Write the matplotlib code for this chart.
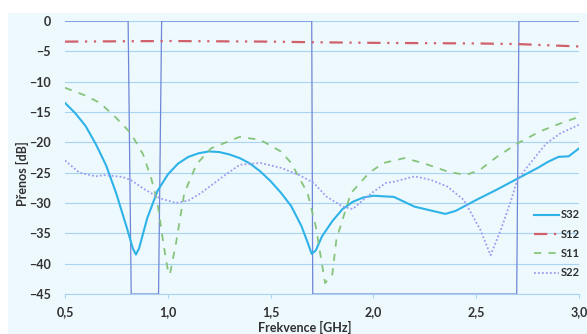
import numpy as np
import matplotlib.pyplot as plt
from matplotlib.patches import Rectangle

# frequency points and S-parameter traces
f32 = [0.5, 0.55, 0.6, 0.65, 0.7, 0.75, 0.8, 0.83, 0.845, 0.86, 0.9, 0.95, 1.0, 1.05, 1.1, 1.15,
       1.2, 1.25, 1.3, 1.35, 1.4, 1.45, 1.5, 1.55, 1.6, 1.65, 1.68, 1.7, 1.72, 1.75, 1.8, 1.85,
       1.9, 1.95, 2.0, 2.1, 2.2, 2.3, 2.35, 2.4, 2.5, 2.6, 2.7, 2.8, 2.85, 2.9, 2.95, 3.0]
s32 = [-13.5, -15.2, -17.3, -20.3, -23.8, -28.5, -34.0, -37.5, -38.5, -37.5, -32.5, -28.0, -25.3,
       -23.5, -22.4, -21.8, -21.5, -21.6, -22.0, -22.6, -23.5, -24.8, -26.4, -28.3, -30.5, -33.8,
       -36.5, -38.4, -37.8, -35.5, -33.0, -31.0, -29.8, -29.1, -28.8, -29.0, -30.6, -31.4, -31.8,
       -31.3, -29.5, -27.8, -26.0, -24.2, -23.2, -22.4, -22.3, -21.0]

f12 = [0.5, 1.0, 1.5, 1.7, 2.0, 2.5, 2.7, 3.0]
s12 = [-3.4, -3.3, -3.4, -3.5, -3.6, -3.7, -3.8, -4.2]

f11 = [0.5, 0.6, 0.67, 0.75, 0.82, 0.88, 0.92, 0.95, 0.98, 1.0, 1.01, 1.04, 1.08, 1.14, 1.21,
       1.35, 1.45, 1.55, 1.6, 1.68, 1.72, 1.765, 1.8, 1.82, 1.89, 1.98, 2.05, 2.15, 2.24, 2.36,
       2.45, 2.52, 2.6, 2.7, 2.81, 2.9, 3.0]
s11 = [-11.0, -12.3, -13.5, -16.0, -18.5, -22.0, -26.0, -30.0, -37.0, -41.0, -41.8, -36.6, -28.4,
       -23.6, -21.0, -19.1, -19.6, -21.5, -23.4, -28.4, -33.9, -43.2, -41.8, -36.0, -28.4, -25.0,
       -23.4, -22.6, -23.4, -24.8, -25.4, -24.5, -22.4, -20.2, -18.2, -17.0, -15.8]

f22 = [0.5, 0.57, 0.65, 0.69, 0.78, 0.82, 0.88, 0.96, 1.04, 1.1, 1.16, 1.27, 1.35, 1.45, 1.55,
       1.64, 1.71, 1.77, 1.85, 1.9, 1.97, 2.06, 2.1, 2.2, 2.28, 2.36, 2.44, 2.52, 2.57, 2.62,
       2.67, 2.7, 2.75, 2.84, 2.91, 3.0]
s22 = [-23.0, -25.0, -25.6, -25.4, -25.7, -26.2, -27.6, -29.2, -30.0, -29.6, -28.4, -25.6, -23.7,
       -23.4, -24.2, -25.4, -26.7, -28.9, -30.6, -31.0, -28.9, -26.7, -26.5, -25.6, -26.2, -27.3,
       -29.5, -34.4, -38.6, -34.4, -29.5, -26.2, -24.0, -20.2, -18.5, -17.1]

# filter mask outline
mask_f = [0.5, 0.807, 0.822, 0.955, 0.97, 1.70, 1.705, 2.697, 2.708, 3.0]
mask_s = [0, 0, -45, -45, 0, 0, -45, -45, 0, 0]

xticks = [0.5, 1.0, 1.5, 2.0, 2.5, 3.0]
xlabels = ['0,5', '1,0', '1,5', '2,0', '2,5', '3,0']
yticks = [0, -5, -10, -15, -20, -25, -30, -35, -40, -45]

plt.rcParams['font.family'] = ['Lato', 'DejaVu Sans']
txt = '#303030'
bg = '#EEF9FE'

fig = plt.figure(figsize=(5.87, 3.34), dpi=100)
fig.patch.set_facecolor('white')
fig.patches.append(Rectangle((8 / 587, 0), 1, 1 - 13 / 334, transform=fig.transFigure,
                             facecolor=bg, edgecolor='none', zorder=-5))
ax = fig.add_axes([65 / 587, 1 - 294 / 334, (579 - 65) / 587, (294 - 21) / 334])
ax.set_facecolor(bg)

for y in yticks:
    ax.axhline(y, color='#A8D4F2', lw=0.8, zorder=1)

ax.plot(mask_f, mask_s, color='#6F86D6', lw=0.9, zorder=2)

l32, = ax.plot(f32, s32, color='#2EB2E8', lw=1.5, zorder=3, label='S32')
l12, = ax.plot(f12, s12, color='#D0606A', lw=1.6, dashes=(6, 3, 1, 3, 1, 3), zorder=3, label='S12')
l11, = ax.plot(f11, s11, color='#86C47C', lw=1.3, dashes=(4, 4), zorder=3, label='S11')
l22, = ax.plot(f22, s22, color='#9C9CF0', lw=1.3, dashes=(1, 1.2), zorder=3, label='S22')

ax.set_xlim(0.5, 3.0)
ax.set_ylim(-45, 0)
ax.set_xticks(xticks)
ax.set_xticklabels(xlabels)
ax.set_yticks(yticks)
for s in ['top', 'right', 'left']:
    ax.spines[s].set_visible(False)
ax.spines['bottom'].set_color('#A8D4F2')
ax.tick_params(axis='y', length=0, pad=10, labelsize=9, labelcolor=txt)
ax.tick_params(axis='x', length=3, color='#A8D4F2', pad=6, labelsize=9, labelcolor=txt)
for lab in ax.get_xticklabels() + ax.get_yticklabels():
    lab.set_fontweight('bold')

fig.text(305 / 587, 7 / 334, 'Frekvence [GHz]', ha='center', va='center', fontsize=9,
         fontweight='bold', color=txt)
fig.text(22 / 587, 160 / 334, 'Přenos [dB]', ha='center', va='center', rotation=90,
         fontsize=9, fontweight='bold', color=txt)

leg = fig.legend(handles=[l32, l12, l11, l22], loc='upper left',
                 bbox_to_anchor=(530 / 587, 1 - 205 / 334), frameon=False,
                 fontsize=8, handlelength=2.2, handletextpad=0.2, labelspacing=0.75,
                 borderaxespad=0, borderpad=0.4)
for t in leg.get_texts():
    t.set_fontweight('bold')
    t.set_color(txt)

fig.savefig('out.png', dpi=100, facecolor='white')
